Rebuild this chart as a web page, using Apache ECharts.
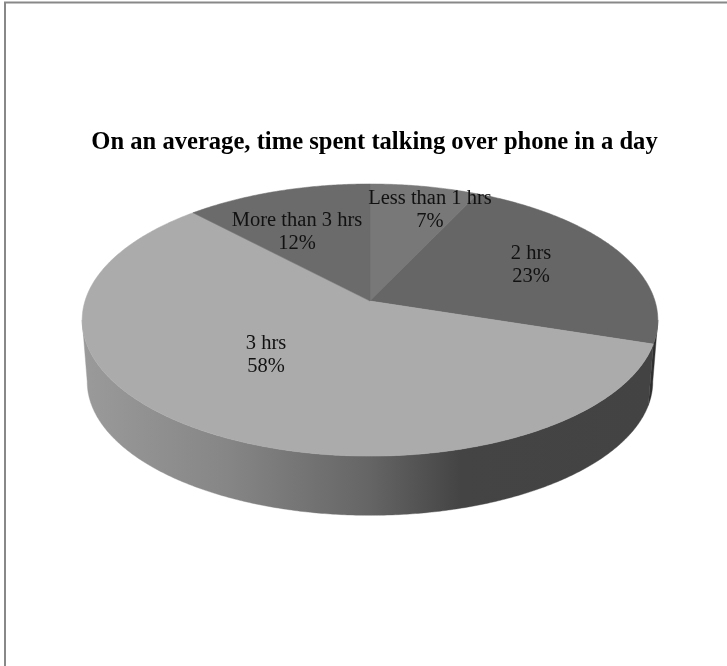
<!DOCTYPE html>
<html>
<head>
<meta charset="utf-8">
<style>html,body{margin:0;padding:0;background:#fff}#c{width:727px;height:666px}</style>
<script src="https://cdn.jsdelivr.net/npm/echarts@6/dist/echarts.min.js"></script>
</head>
<body>
<div id="c"></div>
<script>
const categories = ['Less than 1 hrs', '2 hrs', '3 hrs', 'More than 3 hrs'];
const shares = [7, 23, 58, 12];
const titleText = 'On an average, time spent talking over phone in a day';

const topColors = ['#787878', '#666666', '#ababab', '#6b6b6b'];
const labelCentres = [[430, 210], [531, 265], [266, 355], [297, 232]];

// Perspective tilt of the pie disc
const K = 0.14;
const topPlane = { cx: 370, cy: 301, A: 285, B: 133.4 };
const lowPlane = { cx: 370, cy: 363, A: 280, B: 131 };
const VISIBLE_FROM = 98, VISIBLE_TO = 262;

function project(plane, deg) {
  const t = deg * Math.PI / 180, u = Math.sin(t), v = Math.cos(t), s = 1 / (1 + K * v);
  return [plane.cx + plane.A * u * s, plane.cy - plane.B * v * s];
}
function arc(plane, a0, a1) {
  const n = Math.max(2, Math.ceil(Math.abs(a1 - a0) * 2)), pts = [];
  for (let i = 0; i <= n; i++) pts.push(project(plane, a0 + (a1 - a0) * i / n));
  return pts;
}
const total = shares.reduce((a, b) => a + b, 0);
function sliceAngles(idx) {
  let before = 0;
  for (let i = 0; i < idx; i++) before += shares[i];
  return [before / total * 360, (before + shares[idx]) / total * 360];
}
const wallGradient = new echarts.graphic.LinearGradient(84, 0, 655, 0, [
  { offset: 0, color: '#9a9a9a' },
  { offset: 0.25, color: '#868686' },
  { offset: 0.5, color: '#656565' },
  { offset: 0.66, color: '#444444' },
  { offset: 1, color: '#434343' }
], true);

function renderWall(params, api) {
  const i = api.value(0);
  const [a0, a1] = sliceAngles(i);
  const from = Math.max(a0, VISIBLE_FROM), to = Math.min(a1, VISIBLE_TO);
  if (from >= to) return null;
  const pts = arc(topPlane, from, to).concat(arc(lowPlane, to, from));
  const fill = from === VISIBLE_FROM ? '#2e2e2e' : wallGradient;
  return { type: 'polygon', shape: { points: pts }, style: { fill: fill, stroke: fill, lineWidth: 0.4 } };
}
function renderTop(params, api) {
  const i = api.value(0);
  const [a0, a1] = sliceAngles(i);
  const pts = [[topPlane.cx, topPlane.cy]].concat(arc(topPlane, a0, a1));
  return { type: 'polygon', shape: { points: pts }, style: { fill: topColors[i], stroke: topColors[i], lineWidth: 0.5 } };
}
function renderLabel(params, api) {
  const i = api.value(0);
  const c = labelCentres[i];
  return {
    type: 'text', x: c[0], y: c[1],
    style: {
      text: categories[i] + '\n' + shares[i] + '%',
      fill: '#111111', font: '20.5px "Liberation Serif"',
      align: 'center', verticalAlign: 'middle', lineHeight: 23
    }
  };
}
const rows = shares.map((v, i) => [i, v]);
const chart = echarts.init(document.getElementById('c'), null, { renderer: 'canvas' });
chart.setOption({
  animation: false,
  backgroundColor: '#ffffff',
  title: {
    text: titleText, left: 369.5, top: 125, textAlign: 'center',
    textStyle: { fontFamily: 'Liberation Serif', fontSize: 24.6, fontWeight: 'bold', color: '#000000' }
  },
  graphic: [{
    type: 'rect', silent: true,
    shape: { x: 5, y: 2.5, width: 740, height: 700 },
    style: { fill: 'none', stroke: '#888888', lineWidth: 2 }
  }],
  series: [
    { type: 'custom', coordinateSystem: 'none', data: rows, renderItem: renderWall, silent: true, z: 2 },
    { type: 'custom', coordinateSystem: 'none', data: rows, renderItem: renderTop, silent: true, z: 3 },
    { type: 'custom', coordinateSystem: 'none', data: rows, renderItem: renderLabel, silent: true, z: 4 }
  ]
});
</script>
</body>
</html>
